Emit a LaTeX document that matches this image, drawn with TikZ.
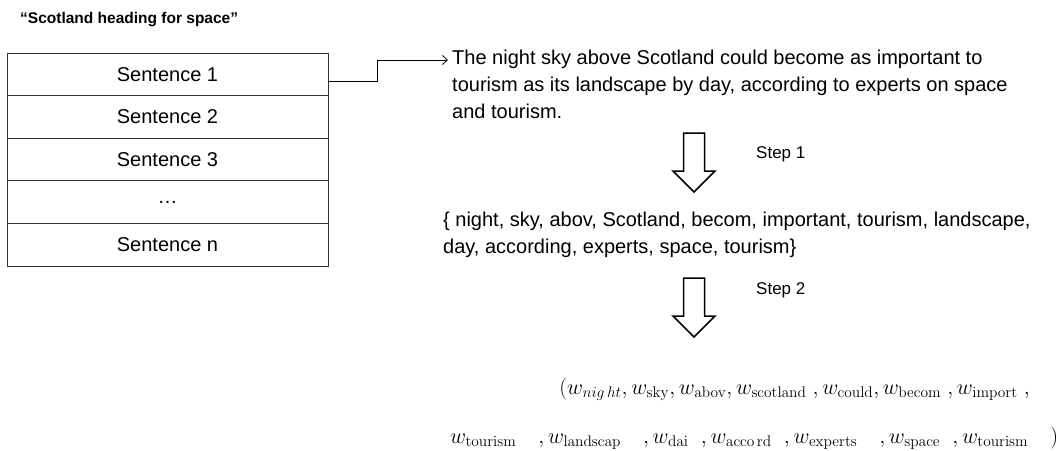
\documentclass[tikz,border=0pt]{standalone}
\usepackage{fix-cm}
\usepackage[no-math]{fontspec}
\setmainfont{Liberation Sans}
\usetikzlibrary{arrows.meta}
\tikzset{
  rowbox/.style={draw=black!80, line width=0.8pt, minimum width=321pt, minimum height=42.6pt, inner sep=0pt, outer sep=0pt, font=\fontsize{20}{24}\selectfont},
  txt/.style={anchor=base west, inner sep=0pt, font=\fontsize{20}{24}\selectfont},
  steptxt/.style={anchor=base west, inner sep=0pt, font=\fontsize{17}{20}\selectfont},
  mathtxt/.style={inner sep=0pt, font=\fontsize{22}{26}\selectfont},
  conn/.style={line width=0.8pt, -{Straight Barb[length=5pt,width=9pt]}},
  blockarrow/.style={draw=black, line width=1.5pt, line join=miter, fill=white}
}
\begin{document}
\begin{tikzpicture}[x=1pt,y=-1pt]
\useasboundingbox (0,0) rectangle (1062,450);
\node[anchor=base west, inner sep=0pt, font=\fontsize{15.5}{18}\selectfont\bfseries] (title) at (20,23) {“Scotland heading for space”};
\node[rowbox] (s1) at (167.5,74.3) {Sentence 1};
\node[rowbox] (s2) at (167.5,116.9) {Sentence 2};
\node[rowbox] (s3) at (167.5,159.5) {Sentence 3};
\node[rowbox] (s4) at (167.5,202.1) {…};
\node[rowbox] (s5) at (167.5,244.7) {Sentence n};
\coordinate (ptip) at (448,60);
\draw[conn] ([yshift=-7pt]s1.east) -- ++(49,0) |- (ptip);
\node[txt] (p1) at (452,64) {The night sky above Scotland could become as important to};
\node[txt] (p2) at (452,91) {tourism as its landscape by day, according to experts on space};
\node[txt] (p3) at (452,118) {and tourism.};
\begin{scope}[shift={(694,0)}]
\draw[blockarrow] (-10.5,133) -- (10.5,133) -- (10.5,171) -- (21,171) -- (0,192) -- (-21,171) -- (-10.5,171) -- cycle;
\end{scope}
\node[steptxt] (step1) at (756,158) {Step 1};
\node[txt] (k1) at (443,226) {\{ night, sky, abov, Scotland, becom, important, tourism, landscape,};
\node[txt] (k2) at (443,253) {day, according,\ experts, space, tourism\}};
\begin{scope}[shift={(694,145)}]
\draw[blockarrow] (-10.5,133) -- (10.5,133) -- (10.5,171) -- (21,171) -- (0,192) -- (-21,171) -- (-10.5,171) -- cycle;
\end{scope}
\node[steptxt] (step2) at (756,294) {Step 2};
\node[mathtxt, anchor=base east] (m1) at (1030,394) {$(w_{nig\,ht}, w_{\mathrm{sky}}, w_{\mathrm{abov}}, w_{\mathrm{scotland}}\;, w_{\mathrm{could}}, w_{\mathrm{becom}}\;, w_{\mathrm{import}}\;,$};
\node[mathtxt, anchor=base west] (m2) at (450,443) {$w_{\mathrm{tourism}}\quad, w_{\mathrm{landscap}}\quad, w_{\mathrm{dai}}\;\;, w_{\mathrm{acco\,rd}}\;\;, w_{\mathrm{experts}}\quad, w_{\mathrm{space}}\;\;, w_{\mathrm{tourism}}\quad)$};
\end{tikzpicture}
\end{document}
